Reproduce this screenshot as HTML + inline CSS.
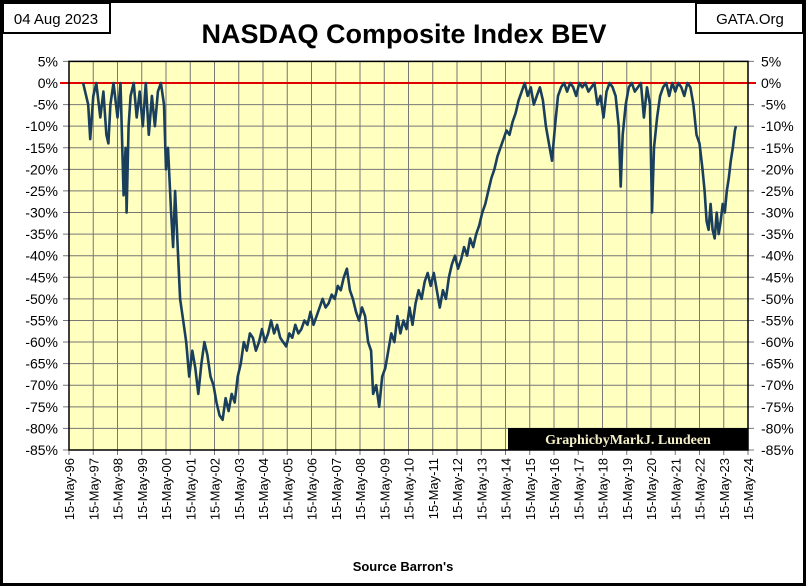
<!DOCTYPE html>
<html><head><meta charset="utf-8"><style>
body{margin:0;background:#fff;}
svg{display:block;font-family:"Liberation Sans",sans-serif;}
</style></head><body>
<svg width="806" height="586">
<rect x="1.5" y="1.5" width="803" height="583" fill="#fff" stroke="#000" stroke-width="3"/>
<rect x="3" y="3" width="107" height="30" fill="#fff" stroke="#000" stroke-width="2"/>
<text x="56" y="24" font-size="15" text-anchor="middle">04 Aug 2023</text>
<rect x="696" y="3" width="107" height="30" fill="#fff" stroke="#000" stroke-width="2"/>
<text x="750" y="24" font-size="15" text-anchor="middle">GATA.Org</text>
<text x="404" y="43" font-size="27" font-weight="bold" text-anchor="middle">NASDAQ Composite Index BEV</text>
<rect x="69" y="61.4" width="679" height="388.6" fill="#ffffc0"/>
<g id="grid"></g>
<g id="yl"></g>
<g id="yr"></g>
<g id="xl"></g>
<line x1="60" x2="756" y1="83" y2="83" stroke="#e00000" stroke-width="2"/>
<path id="series" fill="none" stroke="#1a3f5c" stroke-width="2.6" stroke-linejoin="round"/>
<rect x="69" y="61.4" width="679" height="388.6" fill="none" stroke="#000" stroke-width="1.5"/>
<rect x="508" y="428" width="240" height="22" fill="#000"/>
<text x="628" y="444" font-size="14" font-weight="bold" fill="#f5f0c8" text-anchor="middle" font-family="Liberation Serif,serif">GraphicbyMarkJ. Lundeen</text>
<text x="403" y="571" font-size="13" font-weight="bold" text-anchor="middle">Source Barron's</text>
</svg>
<script>
const yTicks=[5,0,-5,-10,-15,-20,-25,-30,-35,-40,-45,-50,-55,-60,-65,-70,-75,-80,-85];
const xYears=[96,97,98,99,0,1,2,3,4,5,6,7,8,9,10,11,12,13,14,15,16,17,18,19,20,21,22,23,24];
const months=[7,9.5,10.5,12,13.5,15.5,17,18.5,19.5,20.5,22,24,25.5,27,28,28.5,29.5,30.5,32,33.5,35,36.5,38,39.5,41,42.5,44,45.5,47,48,49,
50.5,51.5,52.5,53.5,55,56.5,58,59.5,61,62.5,64,65.5,67,68.5,70,71.5,73,74.5,76,77.5,79,80.5,82,83.5,85,86.5,88,89.5,91,92.5,94,95.5,97,98.5,100,101.5,103,104.5,106,107.5,109,110.5,112,113.5,115,116.5,118,119.5,121,122.5,124,125.5,127,128.5,130,131.5,133,134.5,136,137.5,139,140.5,142,143.5,145,146.5,148,149.5,150.5,152,153.5,155,156.5,158,159.5,161,162.5,164,165.5,167,168.5,170,171.5,173,174.5,176,177.5,179,180.5,182,183.5,185,186.5,188,189.5,191,192.5,194,195.5,197,198.5,200,201.5,203,204.5,206,207.5,209,210.5,212,213.5,215,216.5,218,219.5,221,222.5,224,225.5,227,228.5,230,231.5,233,234.5,236,237.5,239,240.5,242,243.5,245,246.5,248,249.5,251,252.5,254,255.5,257,258.5,260,261.5,263,264.5,266,267.5,269,270.5,272,273,274,275.5,277,278.5,280,281.5,283,284.5,286,287.5,288.5,289.5,291,292.5,294,295.5,297,298.5,300,301.5,303,304.5,306,307.5,309,310.5,312,313.5,314.5,315.5,316.5,317.5,318.5,319.5,320.5,321.5,322.5,323.5,324.5,325.5,326.5,327.5,328.5,329.5,330];
const bev=[0,-5,-13,-3,0,-8,-2,-12,-14,-5,0,-8,0,-26,-15,-30,-10,-3,0,-8,-2,-10,0,-12,-3,-10,-2,0,-5,-20,-15,
-30,-38,-25,-35,-50,-55,-60,-68,-62,-66,-72,-65,-60,-63,-68,-70,-74,-77,-78,-73,-76,-72,-74,-68,-65,-60,-62,-58,-59,-62,-60,-57,-60,-58,-55,-58,-56,-59,-60,-61,-58,-59,-56,-58,-57,-55,-56,-53,-56,-54,-52,-50,-52,-51,-49,-50,-47,-48,-45,-43,-48,-50,-53,-55,-52,-54,-60,-62,-72,-70,-75,-68,-66,-62,-58,-60,-54,-58,-55,-57,-52,-56,-51,-48,-50,-46,-44,-47,-44,-48,-52,-48,-50,-45,-42,-40,-43,-41,-38,-40,-36,-38,-35,-33,-30,-28,-25,-22,-20,-17,-15,-13,-11,-12,-9,-7,-4,-2,0,-3,-1,-5,-3,-1,-4,-10,-14,-18,-10,-3,-1,0,-2,0,-1,-3,0,-1,0,-2,-1,0,-5,-3,-8,-2,0,-1,-3,-10,-24,-12,-5,-1,0,-2,-1,0,-8,-1,-5,-30,-15,-8,-3,-1,0,-3,0,-2,0,-1,-3,0,-1,-5,-12,-14,-20,-25,-32,-34,-28,-34,-36,-30,-35,-32,-28,-30,-25,-22,-18,-15,-11,-10];
const L=69,R=748,T=61.4,B=450;
const xs=m=>L+m*(R-L)/336;
const ys=v=>T+(5-v)*(B-T)/90;
const NS="http://www.w3.org/2000/svg";
function mk(tag,attrs,parent,txt){const e=document.createElementNS(NS,tag);for(const k in attrs)e.setAttribute(k,attrs[k]);if(txt!==undefined)e.textContent=txt;parent.appendChild(e);return e;}
const grid=document.getElementById('grid'),yl=document.getElementById('yl'),yr=document.getElementById('yr'),xl=document.getElementById('xl');
yTicks.forEach(v=>{const y=ys(v);
 const g=mk('line',{x1:L-6,x2:R+6,y1:y,y2:y,stroke:'#777','stroke-width':1},grid);
 
 
 const a=mk('text',{x:L-11,y:y+5,'font-size':14,'text-anchor':'end'},yl,v+'%');
 
 
 const b=mk('text',{x:R+13,y:y+5,'font-size':14,'text-anchor':'start'},yr,v+'%');
 
 
});
xYears.forEach((yy,i)=>{const x=xs(i*12);
 const g=mk('line',{x1:x,x2:x,y1:T,y2:B+5,stroke:'#777','stroke-width':1},grid);
 
 
 const lab='15-May-'+String(yy).padStart(2,'0');
 const t=mk('text',{x:0,y:0,'font-size':13,'text-anchor':'end',transform:`translate(${x+5},${B+8}) rotate(-90)`},xl,lab);
 
 
});
document.getElementById('series').setAttribute('d',months.map((m,i)=>(i?'L':'M')+xs(m).toFixed(1)+','+ys(bev[i]).toFixed(1)).join(''));
</script>
</body></html>
